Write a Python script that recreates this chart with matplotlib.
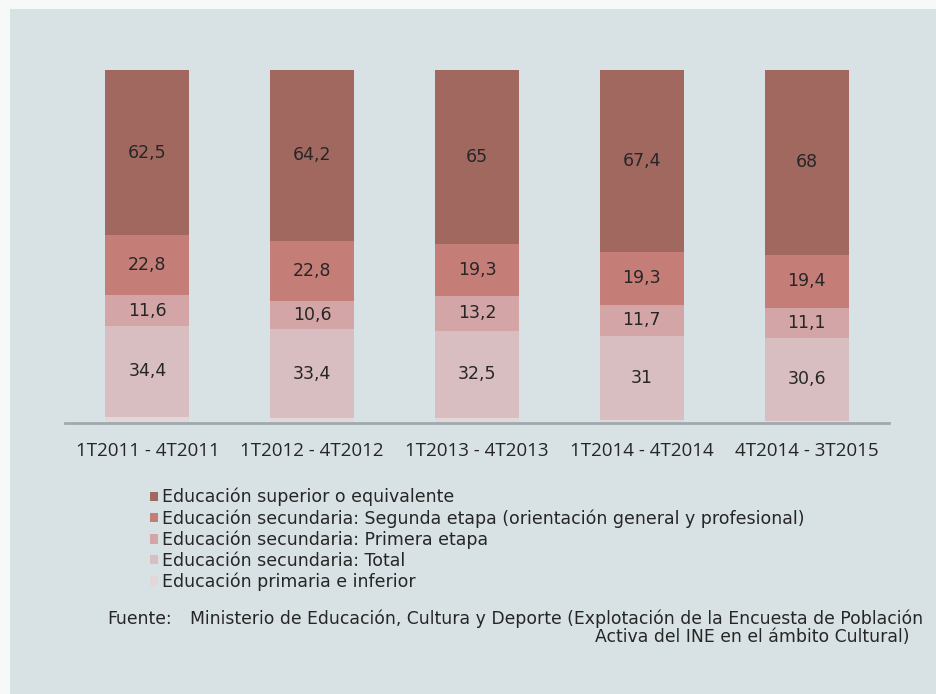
import numpy as np
import matplotlib.pyplot as plt
from matplotlib.patches import Rectangle

categories = ['1T2011 - 4T2011', '1T2012 - 4T2012', '1T2013 - 4T2013',
              '1T2014 - 4T2014', '4T2014 - 3T2015']

# bottom -> top
primaria  = [2.3, 1.9, 1.9, 1.1, 0.7]   # unlabelled thin band, estimated
sec_total = [34.4, 33.4, 32.5, 31, 30.6]
sec_prim  = [11.6, 10.6, 13.2, 11.7, 11.1]
sec_seg   = [22.8, 22.8, 19.3, 19.3, 19.4]
superior  = [62.5, 64.2, 65, 67.4, 68]

series_names = ['Educación primaria e inferior',
                'Educación secundaria: Total',
                'Educación secundaria: Primera etapa',
                'Educación secundaria: Segunda etapa (orientación general y profesional)',
                'Educación superior o equivalente']
series_vals = [primaria, sec_total, sec_prim, sec_seg, superior]
colors = ['#e3d7d9', '#d8bec0', '#d3a5a6', '#c57d78', '#a16860']
labelled = [False, True, True, True, True]

BG = '#d8e1e4'
TXT = '#262626'

fig = plt.figure(figsize=(9.37, 6.94), dpi=100)
fig.patch.set_facecolor('#f7f9f9')
fig.patches.append(Rectangle((10/937, 0), 1 - 11/937, 1 - 9/694,
                             transform=fig.transFigure, facecolor=BG,
                             edgecolor='none', zorder=-10))

ax = fig.add_axes([65/937, (694-423)/694, 824/937, 353/694])
ax.set_facecolor('none')

data = np.array(series_vals, dtype=float)
totals = data.sum(axis=0)
x = np.arange(len(categories))
bottom = np.zeros(len(categories))
handles = []
for name, vals, c, lab in zip(series_names, data, colors, labelled):
    frac = vals / totals
    b = ax.bar(x, frac, 0.51, bottom=bottom, color=c, label=name, linewidth=0)
    handles.append(b)
    if lab:
        for xi, v, f, bt in zip(x, vals, frac, bottom):
            txt = f'{v:g}'.replace('.', ',')
            ax.text(xi, bt + f/2, txt, ha='center', va='center',
                    fontsize=12.5, color=TXT, family='DejaVu Sans')
    bottom += frac

ax.set_xlim(-0.5, len(categories) - 0.5)
ax.set_ylim(0, 1)
ax.set_yticks([])
ax.set_xticks(x)
ax.set_xticklabels(categories, fontsize=13.5, color=TXT, family='Open Sans')
ax.tick_params(axis='x', length=0, pad=14)
for s in ['top', 'right', 'left']:
    ax.spines[s].set_visible(False)
ax.spines['bottom'].set_color('#9eabae')
ax.spines['bottom'].set_linewidth(2)

leg = fig.legend(handles[::-1], series_names[::-1], loc='upper left',
                 bbox_to_anchor=(150/937, 1 - 488/694), frameon=False,
                 handlelength=0.45, handleheight=0.45,
                 handletextpad=0.25, labelspacing=0.16, borderpad=0,
                 borderaxespad=0, prop={'family': 'DejaVu Sans', 'size': 12.5})
for t in leg.get_texts():
    t.set_color(TXT)

fig.text(107/937, 1 - 619/694, 'Fuente:', fontsize=12.4, color=TXT,
         family='DejaVu Sans', va='center')
fig.text(923/937, 1 - 619/694,
         'Ministerio de Educación, Cultura y Deporte (Explotación de la Encuesta de Población',
         fontsize=12.4, color=TXT, family='DejaVu Sans', va='center', ha='right')
fig.text(910/937, 1 - 637/694, 'Activa del INE en el ámbito Cultural)',
         fontsize=12.4, color=TXT, family='DejaVu Sans', va='center', ha='right')

fig.savefig('out.png', dpi=100, facecolor=fig.get_facecolor())
